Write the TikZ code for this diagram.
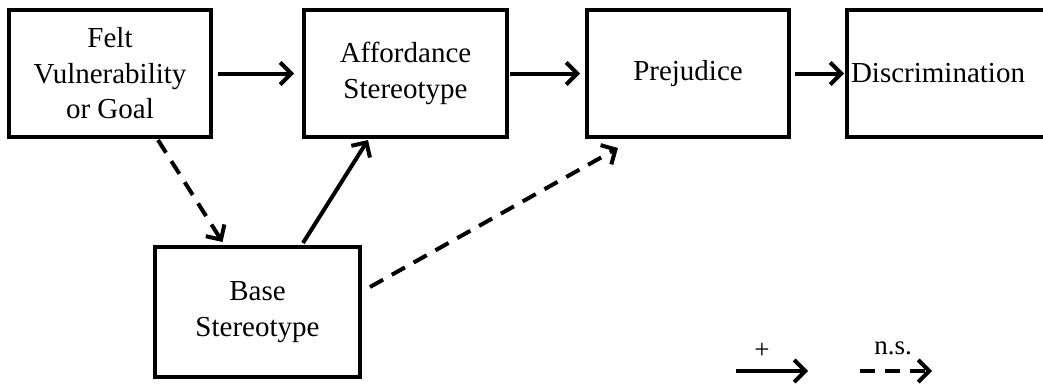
\documentclass[tikz,border=0pt]{standalone}
\usepackage{fontspec}
\setmainfont{Liberation Serif}
\usetikzlibrary{arrows.meta}
\begin{document}
\begin{tikzpicture}[x=1pt,y=-1pt,
  box/.style={draw, line width=4pt, inner sep=0pt, outer sep=0pt, align=center,
    font=\fontsize{29}{35.5}\selectfont},
  posarrow/.style={line width=4pt, -{Straight Barb[length=11pt,width=22pt]}},
  nsarrow/.style={posarrow, dash pattern=on 15pt off 10pt},
  lab/.style={font=\fontsize{27}{30}\selectfont, inner sep=0pt}]
\useasboundingbox (0,0) rectangle (1043,386);
\begin{scope}
\clip (0,0) rectangle (1043,386);
\node[box, minimum width=202pt, minimum height=127pt] (felt) at (110,73.5) {Felt\\Vulnerability\\or Goal};
\node[box, minimum width=203pt, minimum height=127pt] (aff) at (405.5,73.5) {Affordance\\Stereotype};
\node[box, minimum width=202pt, minimum height=127pt] (pre) at (688,73.5) {Prejudice};
\node[box, minimum width=202pt, minimum height=127pt, text width=202pt, align=left] (dis) at (948,73.5) {\hspace*{4pt}Discrimination};
\node[box, minimum width=205pt, minimum height=130pt] (base) at (257.5,312) {Base\\Stereotype};
\end{scope}
\draw[posarrow] ([xshift=7pt]felt.east) -- ([xshift=-10pt]aff.west);
\draw[posarrow] ([xshift=3pt]aff.east) -- ([xshift=-7pt]pre.west);
\draw[posarrow] ([xshift=6pt]pre.east) -- ([xshift=-3pt]dis.west);
\draw[nsarrow] ([xshift=48pt,yshift=-3pt]felt.south) -- ([xshift=-35pt,yshift=5pt]base.north);
\draw[posarrow] ([xshift=45.5pt,yshift=4pt]base.north) -- ([xshift=-37.5pt,yshift=-3pt]aff.south);
\draw[nsarrow] ([xshift=10pt,yshift=25pt]base.east) -- ([xshift=-70pt,yshift=-11pt]pre.south);
\coordinate (l1s) at (736,371);
\coordinate (l1e) at (808,371);
\coordinate (l2s) at (860,371);
\coordinate (l2e) at (932,371);
\draw[posarrow] (l1s) -- (l1e);
\draw[nsarrow] (l2s) -- (l2e);
\node[lab] (plus) at (762,351) {+};
\node[lab] (nsl) at (893,348) {n.s.};
\end{tikzpicture}
\end{document}
